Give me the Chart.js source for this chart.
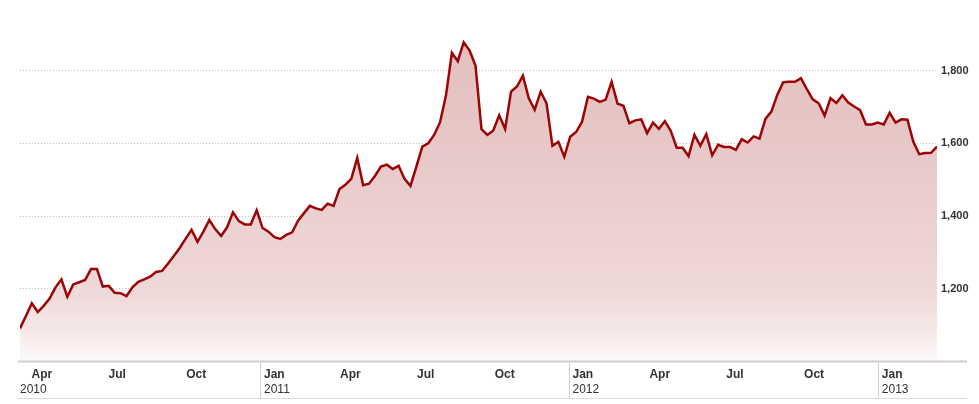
<!DOCTYPE html>
<html><head><meta charset="utf-8">
<script src="https://cdn.jsdelivr.net/npm/chart.js@4.4.1/dist/chart.umd.min.js"></script>
<style>html,body{margin:0;padding:0;background:#fff}#wrap{width:979px;height:404px;position:relative}</style>
</head><body><div id="wrap"><canvas id="c"></canvas></div>
<script>
const weekDates = [
'2010-03-23','2010-03-30','2010-04-06','2010-04-13','2010-04-20','2010-04-27','2010-05-04','2010-05-11','2010-05-18','2010-05-25',
'2010-06-01','2010-06-08','2010-06-15','2010-06-22','2010-06-29','2010-07-06','2010-07-13','2010-07-20','2010-07-27','2010-08-03',
'2010-08-10','2010-08-17','2010-08-24','2010-08-31','2010-09-07','2010-09-14','2010-09-21','2010-09-28','2010-10-05','2010-10-12',
'2010-10-19','2010-10-26','2010-11-02','2010-11-09','2010-11-16','2010-11-23','2010-11-30','2010-12-07','2010-12-14','2010-12-21',
'2010-12-28',
'2011-01-04','2011-01-11','2011-01-18','2011-01-25','2011-02-01','2011-02-08','2011-02-15','2011-02-22','2011-03-01','2011-03-08',
'2011-03-15','2011-03-22','2011-03-29','2011-04-05','2011-04-12','2011-04-19','2011-04-26','2011-05-03','2011-05-10','2011-05-17',
'2011-05-24','2011-05-31','2011-06-07','2011-06-14','2011-06-21','2011-06-28','2011-07-05','2011-07-12','2011-07-19','2011-07-26',
'2011-08-02','2011-08-09','2011-08-16','2011-08-23','2011-08-30','2011-09-06','2011-09-13','2011-09-20','2011-09-27','2011-10-04',
'2011-10-11','2011-10-18','2011-10-25','2011-11-01','2011-11-08','2011-11-15','2011-11-22','2011-11-29','2011-12-06','2011-12-13',
'2011-12-20','2011-12-27',
'2012-01-03','2012-01-10','2012-01-17','2012-01-24','2012-01-31','2012-02-07','2012-02-14','2012-02-21','2012-02-28','2012-03-06',
'2012-03-13','2012-03-20','2012-03-27','2012-04-03','2012-04-10','2012-04-17','2012-04-24','2012-05-01','2012-05-08','2012-05-15',
'2012-05-22','2012-05-29','2012-06-05','2012-06-12','2012-06-19','2012-06-26','2012-07-03','2012-07-10','2012-07-17','2012-07-24',
'2012-07-31','2012-08-07','2012-08-14','2012-08-21','2012-08-28','2012-09-04','2012-09-11','2012-09-18','2012-09-25','2012-10-02',
'2012-10-09','2012-10-16','2012-10-23','2012-10-30','2012-11-06','2012-11-13','2012-11-20','2012-11-27','2012-12-04','2012-12-11',
'2012-12-18','2012-12-25',
'2013-01-01','2013-01-08','2013-01-15','2013-01-22','2013-01-29','2013-02-05','2013-02-12','2013-02-19','2013-02-26','2013-03-05',
'2013-03-12'
];
const goldPrices = [
1091,1125,1160,1136,1153,1173,1204,1226,1178,1212,
1218,1224,1254,1254,1206,1208,1189,1188,1180,1204,
1219,1226,1233,1246,1249,1269,1290,1312,1338,1362,
1329,1357,1389,1364,1345,1369,1410,1386,1377,1377,
1416,1367,1357,1342,1337,1348,1355,1387,1408,1428,
1421,1417,1434,1428,1474,1486,1502,1560,1485,1489,
1510,1536,1541,1529,1538,1502,1483,1536,1591,1600,
1623,1658,1731,1849,1826,1878,1855,1813,1639,1623,
1635,1677,1639,1742,1756,1786,1724,1692,1742,1710,
1593,1604,1563,1618,1631,1659,1728,1723,1714,1720,
1769,1709,1703,1655,1663,1666,1628,1657,1640,1661,
1634,1588,1588,1565,1623,1593,1625,1567,1596,1590,
1590,1582,1611,1602,1619,1613,1667,1687,1733,1768,
1769,1769,1779,1749,1721,1710,1676,1724,1711,1732,
1712,1701,1691,1652,1652,1657,1652,1684,1657,1666,
1665,1604,1570,1573,1574,1591
];
const yTickValues = [1200, 1400, 1600, 1800];
const xTickDates = ['2010-04-01','2010-07-01','2010-10-01','2011-01-01','2011-04-01','2011-07-01','2011-10-01','2012-01-01','2012-04-01','2012-07-01','2012-10-01','2013-01-01'];
const xTickMonths = ['Apr','Jul','Oct','Jan','Apr','Jul','Oct','Jan','Apr','Jul','Oct','Jan'];
const xTickYears = ['2010','','','2011','','','','2012','','','','2013'];

function dayNum(s){
  const p = s.split('-').map(Number);
  return (Date.UTC(p[0], p[1]-1, p[2]) - Date.UTC(2010,0,1)) / 86400000;
}

const FONT = '"Liberation Sans", Arial, sans-serif';

const xAxisPlugin = {
  id: 'xAxisDecor',
  afterDraw(chart){
    const ctx = chart.ctx, xs = chart.scales.x, ca = chart.chartArea;
    const axisY = ca.bottom;
    ctx.save();
    ctx.strokeStyle = '#cfcfcf';
    ctx.lineWidth = 2;
    ctx.beginPath(); ctx.moveTo(18, axisY); ctx.lineTo(967, axisY); ctx.stroke();
    ctx.strokeStyle = '#dcdcdc';
    ctx.lineWidth = 1;
    ctx.beginPath(); ctx.moveTo(18, 398.5); ctx.lineTo(967, 398.5); ctx.stroke();
    ctx.fillStyle = '#333';
    ctx.textBaseline = 'alphabetic';
    ctx.textAlign = 'left';
    xTickDates.forEach((d, i) => {
      const px = xs.getPixelForValue(dayNum(d));
      if (xTickYears[i] && i > 0) {
        ctx.strokeStyle = '#d0d0d0';
        ctx.lineWidth = 1;
        const xx = Math.round(px) + 0.5;
        ctx.beginPath(); ctx.moveTo(xx, axisY); ctx.lineTo(xx, 398); ctx.stroke();
      }
      ctx.font = 'bold 12px ' + FONT;
      ctx.fillText(xTickMonths[i], px + 4, 378);
      if (xTickYears[i]) {
        ctx.font = '12px ' + FONT;
        ctx.fillText(xTickYears[i], i === 0 ? ca.left : px + 4, 393);
      }
    });
    ctx.restore();
  }
};

const points = goldPrices.map((v, i) => ({ x: dayNum(weekDates[i]), y: v }));

new Chart(document.getElementById('c'), {
  type: 'line',
  data: {
    datasets: [{
      data: points,
      borderColor: '#9b0505',
      borderWidth: 2.5,
      pointRadius: 0,
      tension: 0,
      fill: 'start',
      backgroundColor: (ctx) => {
        const ca = ctx.chart.chartArea;
        if (!ca) return 'rgba(228,192,192,1)';
        const g = ctx.chart.ctx.createLinearGradient(0, ca.top, 0, ca.bottom);
        g.addColorStop(0, '#e3bdbd');
        g.addColorStop(0.4, '#e8c8c8');
        g.addColorStop(0.8, '#efd9d9');
        g.addColorStop(0.92, '#f6e9e9');
        g.addColorStop(1, '#fefbfb');
        return g;
      }
    }]
  },
  options: {
    responsive: true,
    maintainAspectRatio: false,
    animation: false,
    layout: { padding: { left: 20, top: 16, bottom: 42.5, right: 0 } },
    plugins: { legend: { display: false }, tooltip: { enabled: false } },
    scales: {
      x: {
        type: 'linear',
        display: false,
        min: dayNum(weekDates[0]),
        max: dayNum(weekDates[weekDates.length - 1])
      },
      y: {
        position: 'right',
        min: 1000,
        max: 1950,
        afterBuildTicks: (scale) => { scale.ticks = yTickValues.map(v => ({ value: v })); },
        afterFit: (scale) => { scale.width = 42; },
        grid: { color: '#bdbdbd', lineWidth: 1, drawTicks: false },
        border: { display: false, dash: [1, 2] },
        ticks: {
          padding: 4,
          color: '#333',
          font: { family: FONT, size: 11, weight: 'bold' },
          callback: (v) => v.toLocaleString('en-US')
        }
      }
    }
  },
  plugins: [xAxisPlugin]
});
</script>
</body></html>
